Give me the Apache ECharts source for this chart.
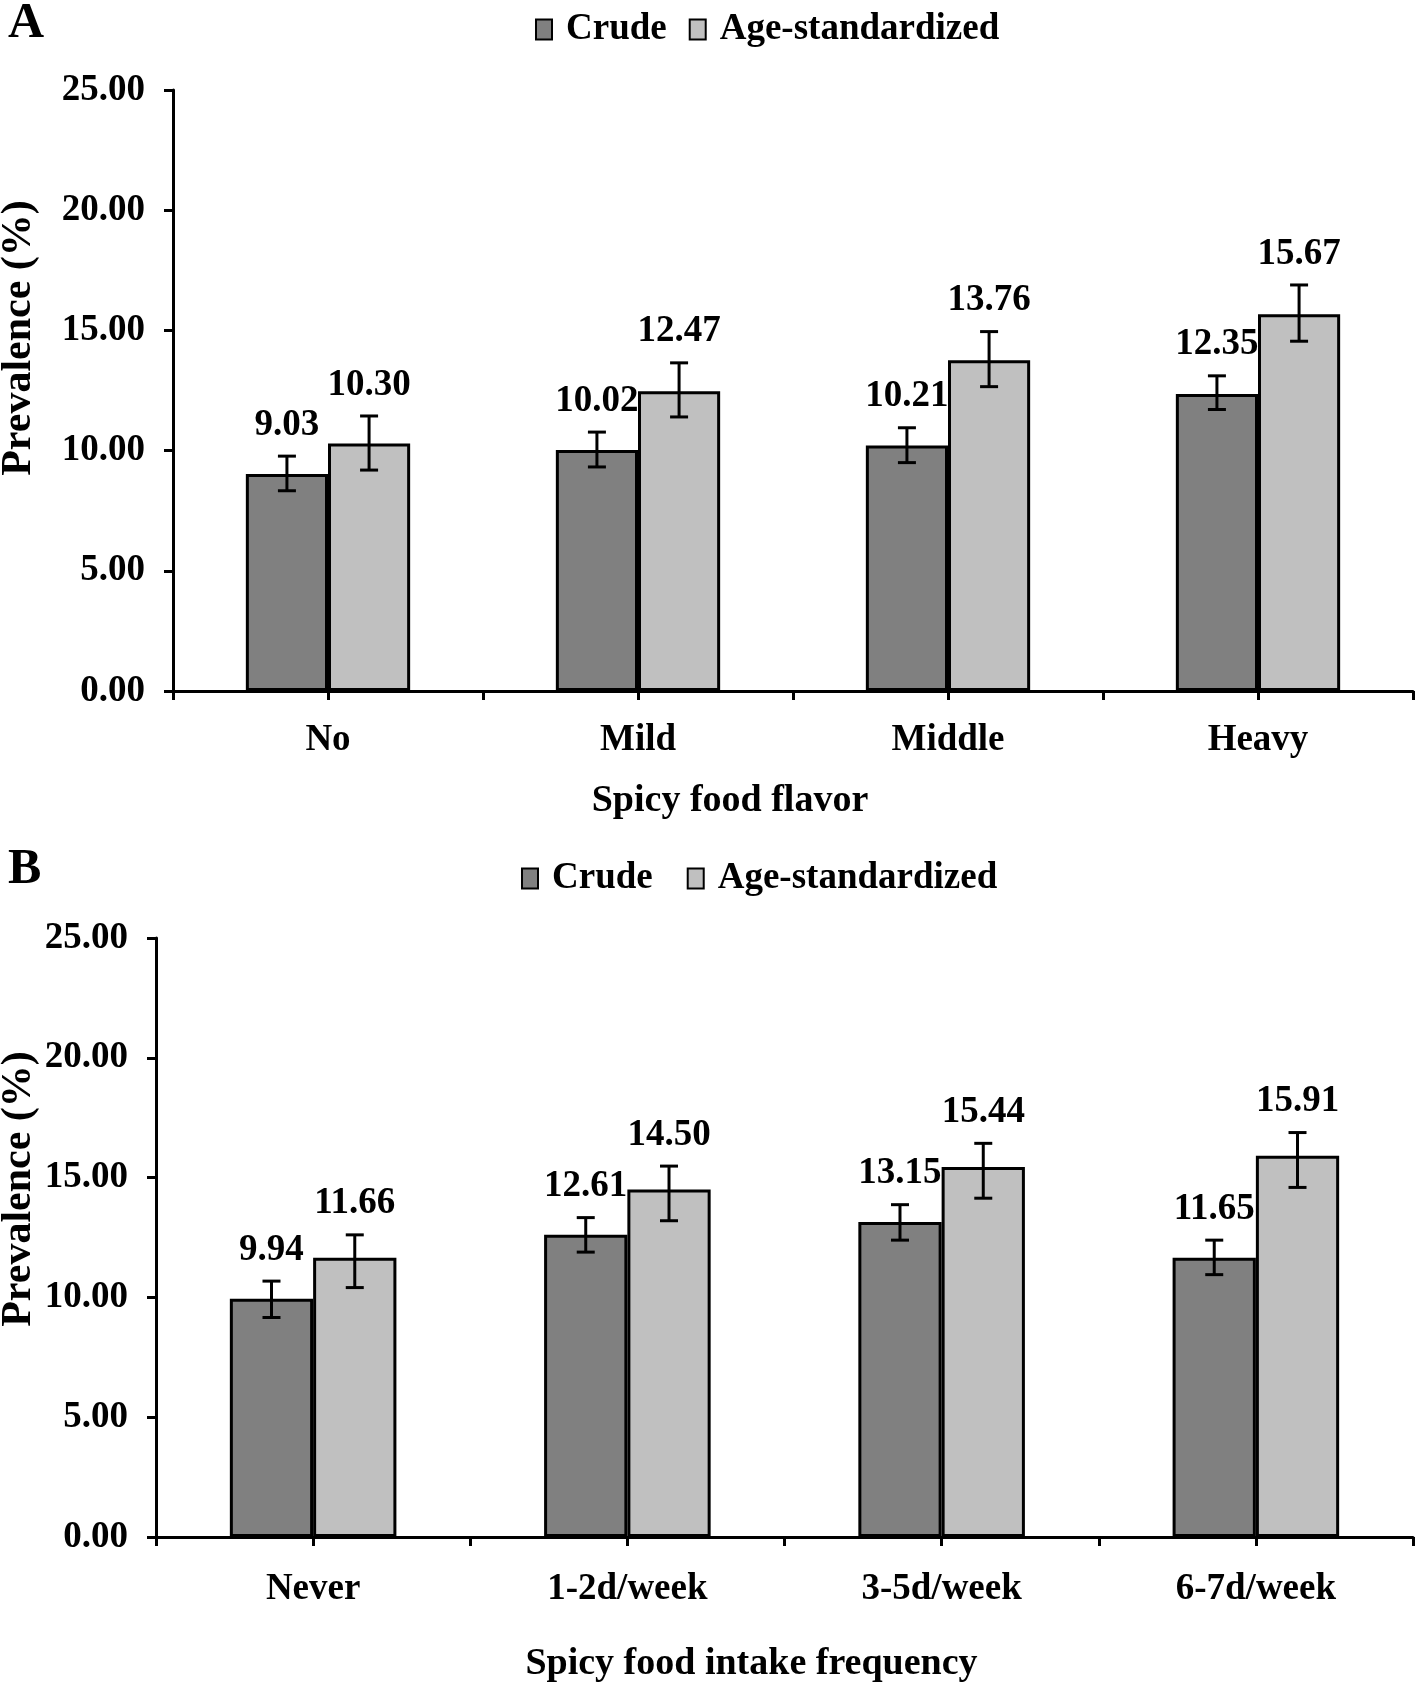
<!DOCTYPE html>
<html>
<head>
<meta charset="utf-8">
<script src="https://cdn.jsdelivr.net/npm/echarts@6/dist/echarts.min.js"></script>
<style>
html,body{margin:0;padding:0;background:#fff;}
#chart{width:1418px;height:1686px;}
</style>
</head>
<body>
<div id="chart"></div>
<script>
// ---- Data ----
const seriesNames = ['Crude', 'Age-standardized'];
const yTicks = [0, 5, 10, 15, 20, 25];

const catsA = ['No', 'Mild', 'Middle', 'Heavy'];
const crudeA = [9.03, 10.02, 10.21, 12.35];
const crudeA_lo = [8.33, 9.32, 9.50, 11.71];
const crudeA_hi = [9.77, 10.77, 10.95, 13.11];
const ageA = [10.30, 12.47, 13.76, 15.67];
const ageA_lo = [9.19, 11.40, 12.66, 14.55];
const ageA_hi = [11.44, 13.65, 14.95, 16.89];

const catsB = ['Never', '1-2d/week', '3-5d/week', '6-7d/week'];
const crudeB = [9.94, 12.61, 13.15, 11.65];
const crudeB_lo = [9.16, 11.89, 12.39, 10.95];
const crudeB_hi = [10.68, 13.33, 13.87, 12.39];
const ageB = [11.66, 14.50, 15.44, 15.91];
const ageB_lo = [10.41, 13.20, 14.14, 14.59];
const ageB_hi = [12.61, 15.48, 16.43, 16.88];

// ---- Styles ----
const FONT = '"Liberation Serif", "Times New Roman", serif';
const FS = 37;
const DARK = '#808080';
const LIGHT = '#c0c0c0';
const CAT_GAP = 0.47;
const HALF_OFF = (1 - CAT_GAP) / 4;

function errRender(sign) {
  return function (params, api) {
    const i = api.value(0);
    const v = api.value(1);
    const c = api.coord([i, v]);
    const band = api.size([1, 0])[0];
    const x = c[0] + sign * band * HALF_OFF;
    const yLo = api.coord([i, api.value(2)])[1];
    const yHi = api.coord([i, api.value(3)])[1];
    const cap = 9;
    const st = {stroke: '#000', lineWidth: 3};
    return {
      type: 'group',
      children: [
        {type: 'line', shape: {x1: x, y1: yHi, x2: x, y2: yLo}, style: st},
        {type: 'line', shape: {x1: x - cap, y1: yHi, x2: x + cap, y2: yHi}, style: st},
        {type: 'line', shape: {x1: x - cap, y1: yLo, x2: x + cap, y2: yLo}, style: st},
        {type: 'text', x: x, y: yHi - 31, style: {
          text: v.toFixed(2), fill: '#000',
          font: 'bold ' + FS + 'px ' + FONT,
          textAlign: 'center', textVerticalAlign: 'middle'
        }}
      ]
    };
  };
}

function errData(vals, lo, hi) {
  return vals.map((v, i) => [i, v, lo[i], hi[i]]);
}

const txt = {fontFamily: FONT, fontWeight: 'bold', fontSize: FS, color: '#000'};

function yAxisDef(gi) {
  return {
    type: 'value', gridIndex: gi, min: yTicks[0], max: yTicks[yTicks.length - 1], interval: 5,
    splitLine: {show: false},
    axisLine: {show: true, lineStyle: {color: '#000', width: 3}},
    axisTick: {show: true, length: 9, lineStyle: {color: '#000', width: 3}},
    axisLabel: Object.assign({margin: 28, formatter: v => v.toFixed(2)}, txt)
  };
}

function xAxesDef(gi, cats, name, labelMargin, nameGap, shiftLeft) {
  return [
    {
      type: 'category', gridIndex: gi, data: cats,
      axisLine: {show: true, lineStyle: {color: '#000', width: 3}},
      axisTick: {show: true, length: 9, lineStyle: {color: '#000', width: 3}},
      axisLabel: Object.assign({margin: labelMargin}, txt),
      name: name, nameLocation: 'middle', nameGap: nameGap,
      nameTextStyle: Object.assign({}, txt, {fontSize: 38, padding: [0, shiftLeft * 2, 0, 0]})
    },
    {
      type: 'category', gridIndex: gi, data: cats, position: 'bottom',
      axisLine: {show: false},
      axisTick: {show: true, alignWithLabel: true, length: 9, lineStyle: {color: '#000', width: 3}},
      axisLabel: {show: false}
    }
  ];
}

function barSeries(name, xi, yi, data, color) {
  return {
    name: name, type: 'bar', xAxisIndex: xi, yAxisIndex: yi, data: data,
    barGap: '0%', barCategoryGap: (CAT_GAP * 100) + '%',
    itemStyle: {color: color, borderColor: '#000', borderWidth: 3},
    emphasis: {disabled: true}
  };
}

function errSeries(name, xi, yi, data, sign) {
  return {
    name: name, type: 'custom', xAxisIndex: xi, yAxisIndex: yi, z: 5,
    renderItem: errRender(sign), data: data, silent: true
  };
}

const legendBase = {
  orient: 'horizontal', icon: 'rect', itemWidth: 16, itemHeight: 20,
  textStyle: Object.assign({padding: [0, 0, 0, 9]}, txt),
  data: seriesNames, selectedMode: false
};

const option = {
  animation: false,
  backgroundColor: '#fff',
  title: [
    {text: 'A', left: 3, top: -6, textStyle: {fontFamily: FONT, fontWeight: 'bold', fontSize: 50, color: '#000'}},
    {text: 'B', left: 3, top: 840, textStyle: {fontFamily: FONT, fontWeight: 'bold', fontSize: 50, color: '#000'}}
  ],
  legend: [
    Object.assign({left: 530, top: 6, itemGap: 22}, legendBase),
    Object.assign({left: 516, top: 855, itemGap: 34}, legendBase)
  ],
  grid: [
    {left: 173, top: 90, width: 1240, height: 601},
    {left: 156, top: 938, width: 1257, height: 599}
  ],
  xAxis: [].concat(
    xAxesDef(0, catsA, 'Spicy food flavor', 31, 91, 63),
    xAxesDef(1, catsB, 'Spicy food intake frequency', 34, 108, 33)
  ),
  yAxis: [yAxisDef(0), yAxisDef(1)],
  graphic: [
    {type: 'text', x: 19, y: 338, rotation: Math.PI / 2, style: {
      text: 'Prevalence (%)', fill: '#000', font: 'bold 42px ' + FONT,
      textAlign: 'center', textVerticalAlign: 'middle'}},
    {type: 'text', x: 19, y: 1189, rotation: Math.PI / 2, style: {
      text: 'Prevalence (%)', fill: '#000', font: 'bold 42px ' + FONT,
      textAlign: 'center', textVerticalAlign: 'middle'}}
  ],
  series: [
    barSeries('Crude', 0, 0, crudeA, DARK),
    barSeries('Age-standardized', 0, 0, ageA, LIGHT),
    errSeries('errCrudeA', 0, 0, errData(crudeA, crudeA_lo, crudeA_hi), -1),
    errSeries('errAgeA', 0, 0, errData(ageA, ageA_lo, ageA_hi), 1),
    barSeries('Crude', 2, 1, crudeB, DARK),
    barSeries('Age-standardized', 2, 1, ageB, LIGHT),
    errSeries('errCrudeB', 2, 1, errData(crudeB, crudeB_lo, crudeB_hi), -1),
    errSeries('errAgeB', 2, 1, errData(ageB, ageB_lo, ageB_hi), 1)
  ]
};

const chart = echarts.init(document.getElementById('chart'), null, {renderer: 'canvas'});
chart.setOption(option);
</script>
</body>
</html>
